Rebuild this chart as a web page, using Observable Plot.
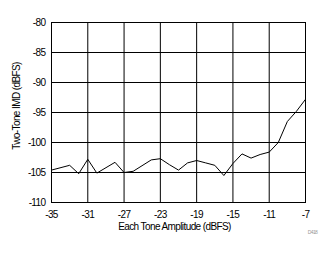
<!DOCTYPE html>
<html>
<head>
<meta charset="utf-8">
<script src="https://cdn.jsdelivr.net/npm/d3@7"></script>
<script src="https://cdn.jsdelivr.net/npm/@observablehq/plot@0.6"></script>
<style>
  html, body { margin: 0; padding: 0; background: #fff; }
  #chart svg { display: block; letter-spacing: -0.6px; }
</style>
</head>
<body>
<div id="chart"></div>
<script>
const toneAmplitude = [-35,-33,-32,-31,-30,-28,-27,-26,-24,-23,-22,-21,-20,-19,-18,-17,-16,-15,-14,-13,-12,-11,-10,-9,-8,-7];
const imd = [-104.6,-103.8,-105.2,-102.8,-105.1,-103.3,-105.0,-104.8,-102.9,-102.7,-103.7,-104.6,-103.4,-103.0,-103.4,-103.8,-105.5,-103.5,-101.9,-102.6,-102.0,-101.6,-100.0,-96.5,-94.8,-92.8];
const xTicks = [-35,-31,-27,-23,-19,-15,-11,-7];
const yTicks = [-110,-105,-100,-95,-90,-85,-80];
const xLabel = ["Each Tone Amplitude (dBFS)"];
const yLabel = ["Two-Tone IMD (dBFS)"];
const caption = ["D418"];

const data = toneAmplitude.map((x, i) => ({x, y: imd[i]}));
const fmt = d => String(d);

const chart = Plot.plot({
  width: 334,
  height: 254,
  marginLeft: 51,
  marginRight: 29,
  marginTop: 22,
  marginBottom: 52,
  style: {fontFamily: "Arial, 'Liberation Sans', sans-serif", fontSize: "10px", color: "#000", background: "#fff"},
  x: {domain: [-35, -7]},
  y: {domain: [-110, -80]},
  marks: [
    Plot.gridX(xTicks, {stroke: "#000", strokeOpacity: 1, strokeWidth: 1}),
    Plot.gridY(yTicks, {stroke: "#000", strokeOpacity: 1, strokeWidth: 1}),
    Plot.frame({stroke: "#000", strokeWidth: 1}),
    Plot.line(data, {x: "x", y: "y", stroke: "#000", strokeWidth: 1}),
    Plot.axisX(xTicks, {tickSize: 0, tickPadding: 8, tickFormat: fmt, label: null}),
    Plot.axisY(yTicks, {tickSize: 0, tickPadding: 6, tickFormat: fmt, label: null}),
    Plot.text(xLabel, {text: d => d, frameAnchor: "bottom", dx: -4, dy: 24, textAnchor: "middle", lineAnchor: "middle", fill: "#000"}),
    Plot.text(yLabel, {text: d => d, frameAnchor: "left", dx: -35, dy: -6.5, rotate: -90, textAnchor: "middle", lineAnchor: "middle", fill: "#000"}),
    Plot.text(caption, {text: d => d, frameAnchor: "bottom-right", dx: 7, dy: 31, textAnchor: "middle", fontSize: 5, fill: "#999"})
  ]
});
document.getElementById("chart").appendChild(chart);
</script>
</body>
</html>
